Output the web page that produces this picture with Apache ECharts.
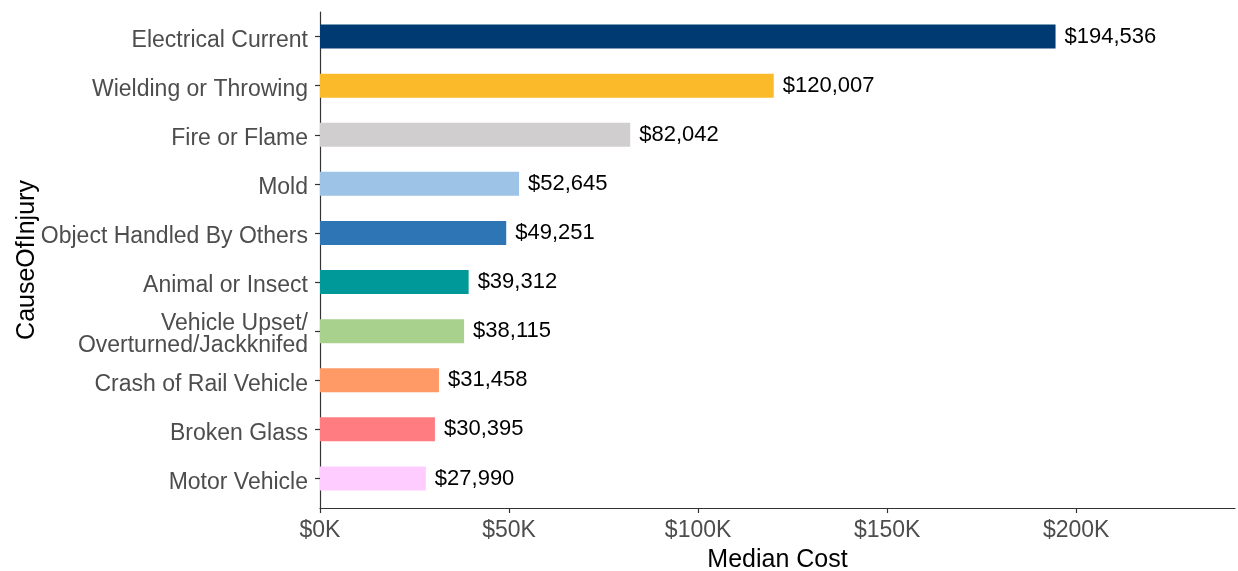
<!DOCTYPE html>
<html>
<head>
<meta charset="utf-8">
<script src="https://cdn.jsdelivr.net/npm/echarts@6/dist/echarts.min.js"></script>
<style>
  html, body { margin: 0; padding: 0; background: #ffffff; }
  #chart { width: 1238px; height: 571px; }
</style>
</head>
<body>
<div id="chart"></div>
<script>
// Median claim cost by cause of injury (top to bottom)
const causes = [
  'Electrical Current',
  'Wielding or Throwing',
  'Fire or Flame',
  'Mold',
  'Object Handled By Others',
  'Animal or Insect',
  'Vehicle Upset/\nOverturned/Jackknifed',
  'Crash of Rail Vehicle',
  'Broken Glass',
  'Motor Vehicle'
];
const medianCost = [194536, 120007, 82042, 52645, 49251, 39312, 38115, 31458, 30395, 27990];
const barColors = [
  '#003A73', '#FBBA2A', '#D0CECE', '#9DC3E6', '#2E75B6',
  '#009999', '#A9D18E', '#FF9966', '#FF7C80', '#FFCCFF'
];
const xTicks = [0, 50000, 100000, 150000, 200000];

const FONT = 'Arial, "Liberation Sans", sans-serif';
const xMax = 242000;

// Category labels sit a little below their tick.
function catLabel(v) {
  return v.split('\n').map(l => '{c|' + l + '}').join('\n');
}

const chart = echarts.init(document.getElementById('chart'), null, { renderer: 'canvas' });

chart.setOption({
  backgroundColor: '#ffffff',
  animation: false,
  grid: [
    // bars and category labels
    { left: 320, right: 3, top: 12, height: 491, containLabel: false, outerBoundsMode: 'none' },
    // frame holding the axis lines, x ticks and titles
    { left: 320, right: 3, top: 12, height: 496, containLabel: false, outerBoundsMode: 'none' }
  ],
  xAxis: [
    {
      gridIndex: 0, type: 'value', min: 0, max: xMax, interval: 50000,
      show: false
    },
    {
      gridIndex: 1, type: 'value', min: 0, max: xMax, interval: 50000,
      name: 'Median Cost', nameLocation: 'middle', nameGap: 40,
      nameTextStyle: { fontFamily: FONT, fontSize: 25, color: '#000000' },
      axisLine: { show: true, lineStyle: { color: '#333333', width: 1.2 } },
      axisTick: { show: true, length: 5, lineStyle: { color: '#333333', width: 1.2 },
        customValues: xTicks },
      axisLabel: {
        fontFamily: FONT, fontSize: 23, color: '#4D4D4D', margin: 11,
        customValues: xTicks,
        formatter: v => '$' + (v / 1000) + 'K'
      },
      splitLine: { show: false }
    }
  ],
  yAxis: [
    {
      gridIndex: 0, type: 'category', data: causes, inverse: true,
      axisLine: { show: false },
      axisTick: { show: true, alignWithLabel: true, length: 5,
        lineStyle: { color: '#333333', width: 1.2 } },
      axisLabel: {
        fontFamily: FONT, fontSize: 23, color: '#4D4D4D', margin: 12,
        lineHeight: 22, align: 'right',
        formatter: catLabel,
        rich: {
          c: { fontFamily: FONT, fontSize: 23, color: '#4D4D4D', lineHeight: 22,
               align: 'right', padding: [8, 0, 0, 0] }
        }
      },
      splitLine: { show: false }
    },
    {
      gridIndex: 1, type: 'value', min: 0, max: 1,
      name: 'CauseOfInjury', nameLocation: 'middle', nameGap: 280,
      nameTextStyle: { fontFamily: FONT, fontSize: 25, color: '#000000' },
      axisLine: { show: true, lineStyle: { color: '#333333', width: 1.2 } },
      axisTick: { show: false },
      axisLabel: { show: false },
      splitLine: { show: false }
    }
  ],
  series: [
    {
      type: 'bar',
      xAxisIndex: 0,
      yAxisIndex: 0,
      barWidth: 24,
      data: medianCost.map((v, i) => ({ value: v, itemStyle: { color: barColors[i] } })),
      label: {
        show: true,
        position: 'right',
        distance: 9,
        fontFamily: FONT,
        fontSize: 22,
        color: '#000000',
        formatter: p => '$' + p.value.toLocaleString('en-US')
      }
    }
  ]
});
</script>
</body>
</html>
